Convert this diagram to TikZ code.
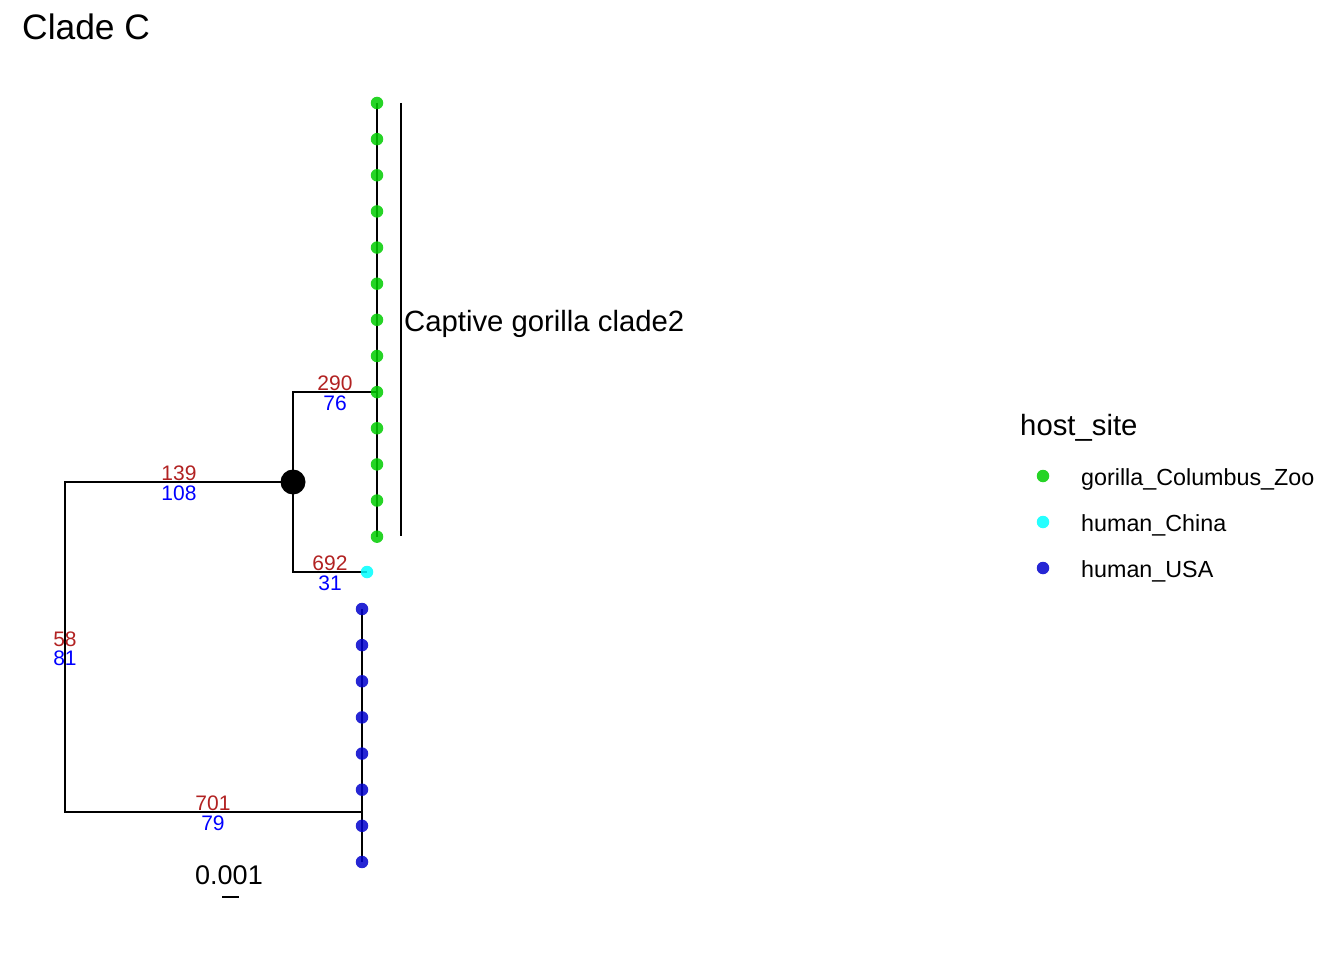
\documentclass[tikz,border=0pt]{standalone}
\usepackage{fontspec}
\setmainfont{Liberation Sans}
\definecolor{labred}{RGB}{178,34,34}
\definecolor{labblue}{RGB}{0,0,255}
\definecolor{tipgreen}{RGB}{0,205,0}
\definecolor{tipcyan}{RGB}{0,255,255}
\definecolor{tipblue}{RGB}{0,0,205}
\begin{document}
\begin{tikzpicture}[x=1pt,y=-1pt,
  br/.style={line width=2.6pt},
  tipdot/.style={circle, inner sep=0pt, minimum size=12.5pt, fill=#1, fill opacity=0.85, draw=none},
  bignode/.style={circle, inner sep=0pt, minimum size=25pt, fill=black},
  redlab/.style={text=labred, font=\fontsize{21}{21}\selectfont, inner sep=0pt, anchor=base},
  bluelab/.style={text=labblue, font=\fontsize{21}{21}\selectfont, inner sep=0pt, anchor=base},
  legtext/.style={font=\fontsize{23.3}{24}\selectfont, inner sep=0pt, anchor=base west},
]
\useasboundingbox[fill=white] (0,0) rectangle (1344,960);

% title
\node[font=\fontsize{35.4}{36}\selectfont, inner sep=0pt, anchor=base west] (title) at (22,40) {Clade C};

% internal nodes
\coordinate (root) at (65,647);
\coordinate (n1) at (293,482);
\coordinate (ng) at (377,392);
\coordinate (nb) at (362,812);

% tips: gorilla clade
\foreach \i in {1,...,13} {
  \coordinate (g\i) at (377,{103+(\i-1)*36.14});
}
\coordinate (c1) at (367,572);
\foreach \i in {1,...,8} {
  \coordinate (b\i) at (362,{609+(\i-1)*36.14});
}

% branches
\draw[br] (n1) -| (root) |- (nb);
\draw[br] (ng) -| (n1) |- (c1);
\draw[br] (g1) -- (g13);
\draw[br] (b1) -- (b8);

% tip dots
\foreach \i in {1,...,13} { \node[tipdot=tipgreen] (gt\i) at (g\i) {}; }
\node[tipdot=tipcyan] (ct1) at (c1) {};
\foreach \i in {1,...,8} { \node[tipdot=tipblue] (bt\i) at (b\i) {}; }

% big node marker
\node[bignode] (n1dot) at (n1) {};

% branch labels
\node[redlab] (l139) at (179,480) {139};
\node[bluelab] (l108) at (179,500) {108};
\node[redlab] (l290) at (335,390) {290};
\node[bluelab] (l76) at (335,410) {76};
\node[redlab] (l692) at (330,570) {692};
\node[bluelab] (l31) at (330,590) {31};
\node[redlab] (l58) at (65,646) {58};
\node[bluelab] (l81) at (65,665) {81};
\node[redlab] (l701) at (213,810) {701};
\node[bluelab] (l79) at (213,830) {79};

% clade bar
\coordinate (cbTop) at (401,103);
\coordinate (cbBot) at (401,536);
\draw[line width=2.3pt] (cbTop) -- (cbBot);
\node[font=\fontsize{29.3}{30}\selectfont, inner sep=0pt, anchor=base west] (cladelab) at (404,331) {Captive gorilla clade2};

% scale bar
\coordinate (sbL) at (222,897);
\coordinate (sbR) at (239,897);
\draw[line width=2.6pt] (sbL) -- (sbR);
\node[font=\fontsize{27}{28}\selectfont, inner sep=0pt, anchor=base] (sblab) at (229,884) {0.001};

% legend
\node[font=\fontsize{29.3}{30}\selectfont, inner sep=0pt, anchor=base west] (legtitle) at (1020,435) {host\_site};
\node[tipdot=tipgreen] (lk1) at (1043,476) {};
\node[tipdot=tipcyan] (lk2) at (1043,522) {};
\node[tipdot=tipblue] (lk3) at (1043,568) {};
\node[legtext] (lt1) at (1081,485) {gorilla\_Columbus\_Zoo};
\node[legtext] (lt2) at (1081,531) {human\_China};
\node[legtext] (lt3) at (1081,577) {human\_USA};
\end{tikzpicture}
\end{document}
